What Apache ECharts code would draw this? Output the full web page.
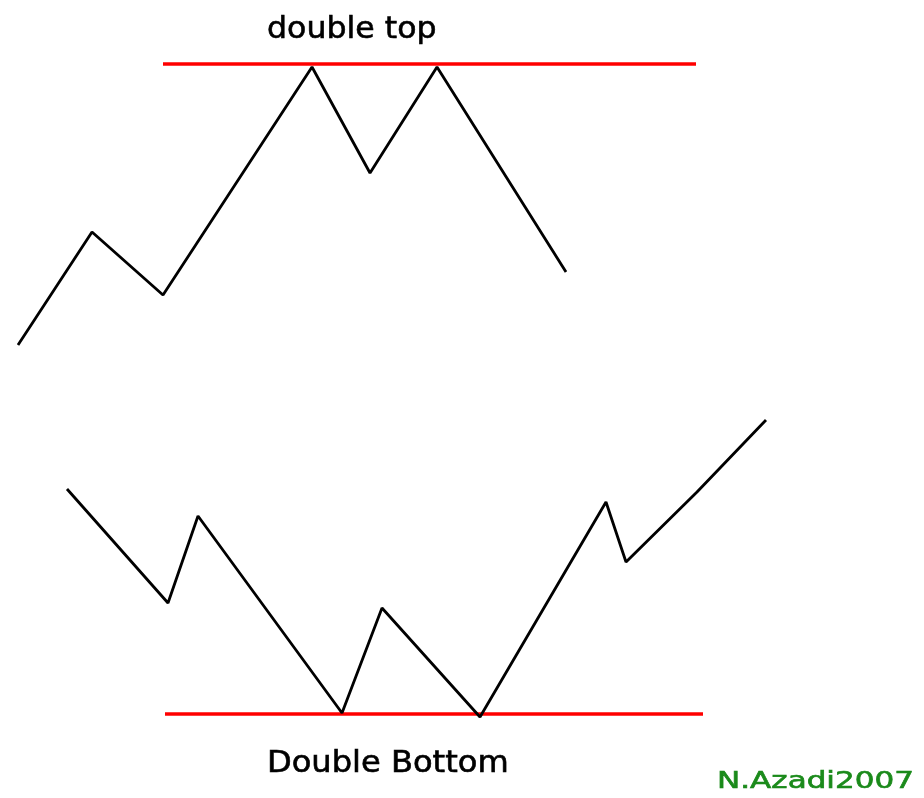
<!DOCTYPE html>
<html>
<head>
<meta charset="utf-8">
<script src="https://cdn.jsdelivr.net/npm/echarts@6/dist/echarts.min.js"></script>
<style>
  html, body { margin: 0; padding: 0; background: #fff; }
  #main { width: 924px; height: 798px; }
</style>
</head>
<body>
<div id="main"></div>
<script>
/* price paths (x = horizontal position, y = price level, top = 0) */
var topX = [18, 92, 163, 312, 370, 437, 566]
var topY = [345, 232, 295, 67, 173, 67, 272]
var bottomX = [67, 168, 198, 342, 382, 480, 606, 626, 697, 766]
var bottomY = [489, 603, 516, 713, 608, 717, 502, 562, 492, 420]
// resistance / support levels
var resistanceX = [163, 696]
var resistanceY = [64, 64]
var supportX = [165, 703]
var supportY = [714, 714]
var labels = ['double top', 'Double Bottom', 'N.Azadi2007']

function pairs(xs, ys) {
  return xs.map(function (x, i) { return [x, ys[i]] })
}

var myChart = echarts.init(document.getElementById('main'))

function lineSeries(xs, ys, color, width) {
  return {
    type: 'line',
    data: pairs(xs, ys),
    symbol: 'none',
    silent: true,
    animation: false,
    lineStyle: { color: color, width: width },
  }
}

// 文字标注（略加描边，接近原图的粗细）
function label(text, x, y, size, sx, color) {
  return {
    type: 'text', x: x, y: y, scaleX: sx,
    style: {
      text: text, x: 0, y: 0, fill: color, stroke: color, lineWidth: 0.6,
      font: size + 'px "DejaVu Sans"', verticalAlign: 'bottom',
    },
  }
}

const option = {
  backgroundColor: '#fff',
  animation: false,
  grid: { left: 0, right: 0, top: 0, bottom: 0 },
  xAxis: { type: 'value', min: 0, max: 924, show: false },
  yAxis: { type: 'value', min: 0, max: 798, inverse: true, show: false },
  series: [
    lineSeries(resistanceX, resistanceY, '#ff0000', 3.5),
    lineSeries(supportX, supportY, '#ff0000', 3.5),
    lineSeries(topX, topY, '#000000', 2.8),
    lineSeries(bottomX, bottomY, '#000000', 2.8),
  ],
  graphic: [
    label(labels[0], 267, 45, 31, 1.02, '#000'),
    label(labels[1], 267, 779, 30, 1.07, '#000'),
    label(labels[2], 717, 794, 23, 1.35, '#1a8a1a'),
  ],
}
myChart.setOption(option)
</script>
</body>
</html>
